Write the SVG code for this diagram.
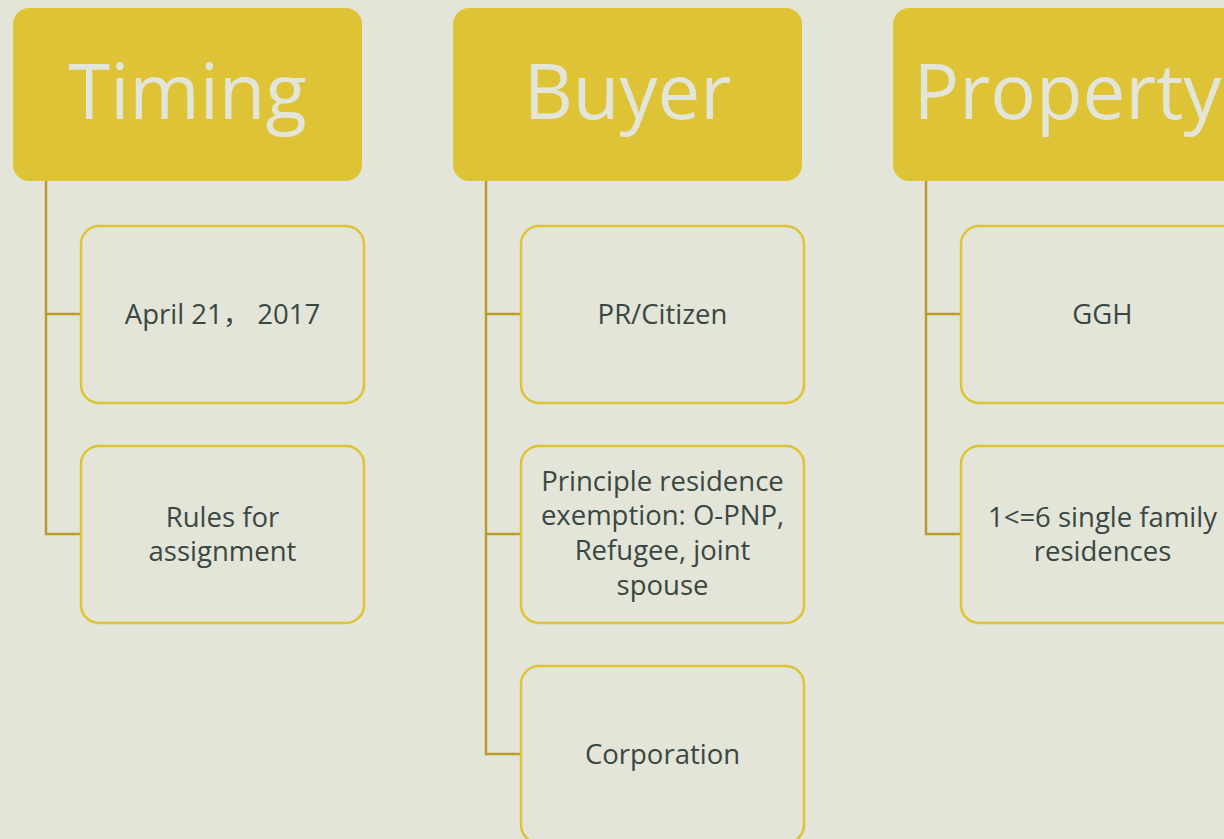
<svg xmlns="http://www.w3.org/2000/svg" width="1224" height="839" viewBox="0 0 1224 839">
<style>
.hdr{fill:#DDC335}
.hdr-t{fill:#E3E5D9;font-family:"Open Sans","Noto Sans",sans-serif;font-size:76px;text-anchor:middle}
.box{fill:#E3E5D9;stroke:#DDC335;stroke-width:2.5}
.t{fill:#3B4742;font-family:"Open Sans","Noto Sans","Noto Sans CJK SC",sans-serif;font-size:27.5px;text-anchor:middle}
.c{fill:none;stroke:#B89D2C;stroke-width:2.5}
</style>
<rect width="1224" height="839" fill="#E3E5D9"/>
<g id="connectors">
<path class="c" d="M46 181V534H81M46 314H81"/>
<path class="c" d="M486 181V754H521M486 314H521M486 534H521"/>
<path class="c" d="M926 181V534H961M926 314H961"/>
</g>
<g id="timing"><rect class="hdr" x="13" y="8" width="349" height="173" rx="16"/><text class="hdr-t" x="187.5" y="119">Timing</text></g>
<g id="buyer"><rect class="hdr" x="453" y="8" width="349" height="173" rx="16"/><text class="hdr-t" x="627.5" y="119">Buyer</text></g>
<g id="property"><rect class="hdr" x="893" y="8" width="349" height="173" rx="16"/><text class="hdr-t" x="1067.5" y="119">Property</text></g>
<g id="april"><rect class="box" x="81" y="226" width="283" height="177" rx="18"/><text class="t" x="222.5" y="324">April 21，  2017</text></g>
<g id="rules"><rect class="box" x="81" y="446" width="283" height="177" rx="18"/><text class="t" x="222.5" y="527">Rules for</text><text class="t" x="222.5" y="561">assignment</text></g>
<g id="pr"><rect class="box" x="521" y="226" width="283" height="177" rx="18"/><text class="t" x="662.5" y="324">PR/Citizen</text></g>
<g id="principle"><rect class="box" x="521" y="446" width="283" height="177" rx="18"/><text class="t" x="662.5" y="491">Principle residence</text><text class="t" x="662.5" y="525">exemption: O-PNP,</text><text class="t" x="662.5" y="560">Refugee, joint</text><text class="t" x="662.5" y="595">spouse</text></g>
<g id="corporation"><rect class="box" x="521" y="666" width="283" height="177" rx="18"/><text class="t" x="662.5" y="764">Corporation</text></g>
<g id="ggh"><rect class="box" x="961" y="226" width="283" height="177" rx="18"/><text class="t" x="1102.5" y="324">GGH</text></g>
<g id="single"><rect class="box" x="961" y="446" width="283" height="177" rx="18"/><text class="t" x="1102.5" y="527">1&lt;=6 single family</text><text class="t" x="1102.5" y="561">residences</text></g>
</svg>
